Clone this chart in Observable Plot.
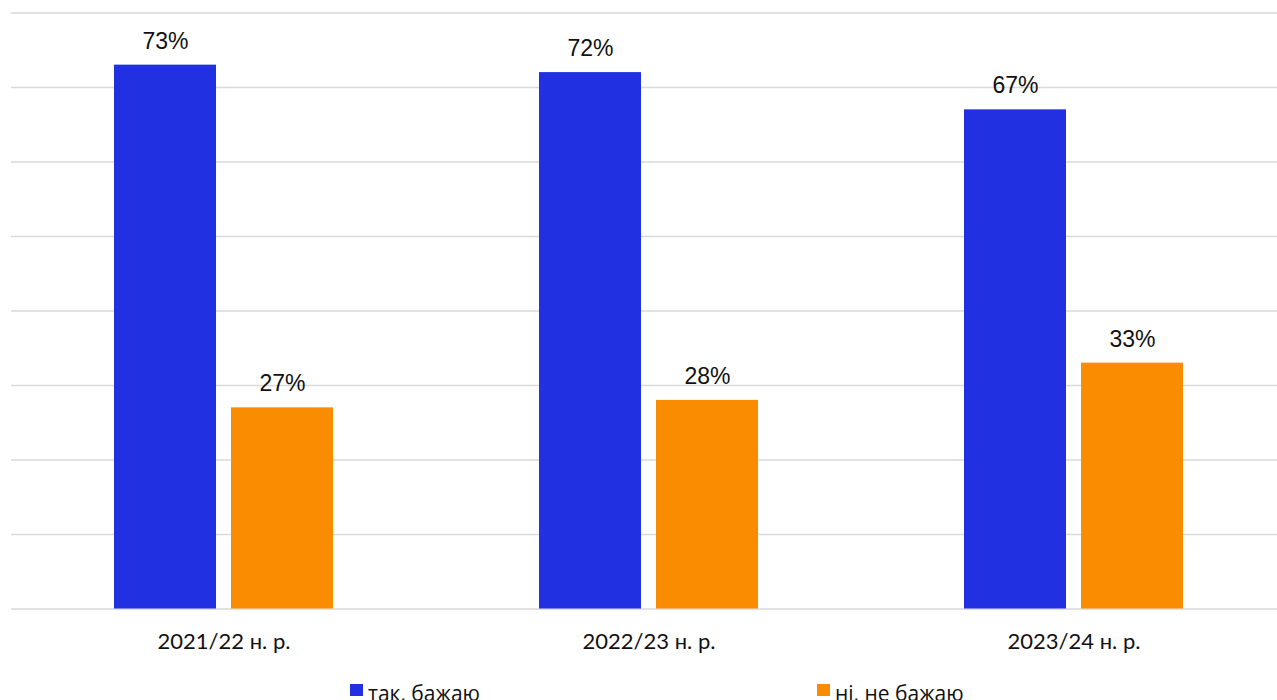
<!DOCTYPE html>
<html>
<head>
<meta charset="utf-8">
<script src="https://cdn.jsdelivr.net/npm/d3@7"></script>
<script src="https://cdn.jsdelivr.net/npm/@observablehq/plot@0.6"></script>
<style>
  html, body { margin: 0; padding: 0; background: #fff; overflow: hidden; }
  #wrap { position: relative; width: 1277px; height: 700px; overflow: hidden; }
  #chart svg { max-width: none !important; }
  #legend { position: absolute; top: 681px; left: 0; width: 1277px; height: 40px; font-family: "Open Sans", sans-serif; font-size: 21px; color: #111; }
  .item { position: absolute; top: 0; line-height: 24px; white-space: nowrap; }
  .sw { position: absolute; top: 3px; left: 0; width: 13px; height: 12px; }
  .lbl { position: absolute; top: 0; white-space: nowrap; }
</style>
</head>
<body>
<div id="wrap">
  <div id="chart"></div>
  <div id="legend"></div>
</div>
<script>
const years = ["2021/22 н. р.", "2022/23 н. р.", "2023/24 н. р."];
const series = ["так, бажаю", "ні, не бажаю"];
const yesValues = [73, 72, 67];
const noValues = [27, 28, 33];
const colors = ["#2130E1", "#F98C00"];
const yTicks = [0, 10, 20, 30, 40, 50, 60, 70, 80];

const data = [];
years.forEach((yr, i) => {
  data.push({year: yr, series: series[0], value: yesValues[i]});
  data.push({year: yr, series: series[1], value: noValues[i]});
});

const chart = Plot.plot({
  width: 1287,
  height: 665,
  marginLeft: 10,
  marginRight: 0,
  marginTop: 12.5,
  marginBottom: 56.5,
  style: {background: "#fff", overflow: "visible", maxWidth: "none"},
  fx: {domain: years, padding: 0, label: null},
  x: {domain: series, paddingInner: 0.127, paddingOuter: 0.867, axis: null},
  y: {domain: [0, 80], axis: null},
  color: {domain: series, range: colors},
  marks: [
    Plot.gridY(yTicks, {stroke: "#d9d9d9", strokeOpacity: 1, strokeWidth: 1.5}),
    Plot.barY(data, {fx: "year", x: "series", y: "value", fill: "series"}),
    Plot.text(data, {fx: "year", x: "series", y: "value", text: d => d.value + "%", dy: -24, fontSize: 23, fill: "#111", fontFamily: "Liberation Sans, Arial, sans-serif"}),
    Plot.axisFx({anchor: "bottom", tickSize: 0, tickPadding: 24, fontSize: 22, fontFamily: "Lato, sans-serif", fill: "#111", label: null})
  ]
});
document.getElementById("chart").appendChild(chart);

const legend = document.getElementById("legend");
const lefts = [350, 817];
series.forEach((s, i) => {
  const item = document.createElement("div");
  item.className = "item";
  item.style.left = lefts[i] + "px";
  const sw = document.createElement("span");
  sw.className = "sw";
  sw.style.background = colors[i];
  const lbl = document.createElement("span");
  lbl.className = "lbl";
  lbl.style.left = "18px";
  lbl.textContent = s;
  item.appendChild(sw);
  item.appendChild(lbl);
  legend.appendChild(item);
});
</script>
</body>
</html>
